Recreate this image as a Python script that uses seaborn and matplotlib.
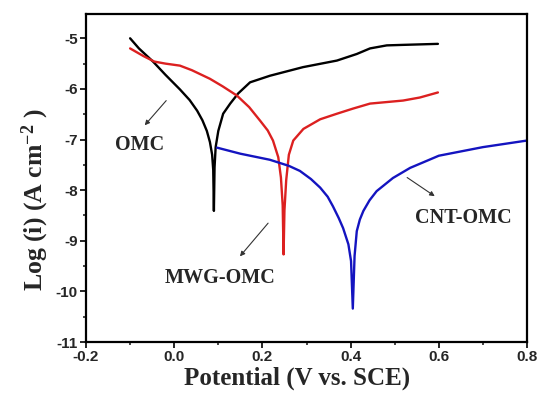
import matplotlib
matplotlib.use("Agg")
import matplotlib.pyplot as plt
import seaborn as sns
import pandas as pd

# OMC (black)
omc_x = [-0.100, -0.080, -0.048, -0.020, 0.013, 0.035, 0.052, 0.064, 0.074, 0.081, 0.086, 0.0885, 0.090,
         0.0915, 0.094, 0.100, 0.111, 0.127, 0.145, 0.172, 0.217, 0.292, 0.369, 0.414, 0.444, 0.482, 0.519, 0.598]
omc_y = [-5.00, -5.20, -5.46, -5.72, -6.01, -6.22, -6.43, -6.62, -6.83, -7.05, -7.30, -7.60, -8.41,
         -7.55, -7.15, -6.83, -6.49, -6.29, -6.09, -5.87, -5.74, -5.57, -5.44, -5.31, -5.20, -5.14, -5.13, -5.11]

# MWG-OMC (red)
mwg_x = [-0.100, -0.070, -0.045, -0.020, 0.013, 0.040, 0.081, 0.110, 0.142, 0.170, 0.195, 0.212, 0.224,
         0.236, 0.242, 0.246, 0.248, 0.250, 0.254, 0.260, 0.270, 0.293, 0.331, 0.369, 0.405, 0.444, 0.519, 0.557, 0.598]
mwg_y = [-5.20, -5.35, -5.46, -5.50, -5.54, -5.63, -5.80, -5.95, -6.13, -6.36, -6.63, -6.82, -7.02,
         -7.35, -7.75, -8.30, -9.27, -8.40, -7.80, -7.30, -7.02, -6.79, -6.60, -6.49, -6.39, -6.29, -6.23, -6.17, -6.07]

# CNT-OMC (blue)
cnt_x = [0.097, 0.150, 0.217, 0.260, 0.285, 0.310, 0.331, 0.348, 0.360, 0.373, 0.383, 0.395, 0.401, 0.405,
         0.409, 0.414, 0.421, 0.429, 0.443, 0.459, 0.496, 0.535, 0.573, 0.600, 0.700, 0.800]
cnt_y = [-7.16, -7.28, -7.40, -7.52, -7.62, -7.78, -7.95, -8.13, -8.32, -8.55, -8.75, -9.07, -9.40, -10.34,
         -9.30, -8.81, -8.58, -8.41, -8.20, -8.02, -7.76, -7.56, -7.42, -7.32, -7.15, -7.02]

labels = ["OMC", "MWG-OMC", "CNT-OMC"]
colors = ["#000000", "#dc2020", "#1414c0"]

df = pd.concat([
    pd.DataFrame({"x": omc_x, "y": omc_y, "s": labels[0]}),
    pd.DataFrame({"x": mwg_x, "y": mwg_y, "s": labels[1]}),
    pd.DataFrame({"x": cnt_x, "y": cnt_y, "s": labels[2]}),
], ignore_index=True)

sns.set_style("ticks")
plt.rcParams["mathtext.fontset"] = "custom"
plt.rcParams["mathtext.rm"] = "Liberation Serif:bold"
plt.rcParams["mathtext.it"] = "Liberation Serif:bold"
plt.rcParams["mathtext.bf"] = "Liberation Serif:bold"
plt.rcParams["mathtext.default"] = "rm"

fig = plt.figure(figsize=(5.37, 3.94), dpi=100)
ax = fig.add_axes([86/537, 1 - 342/394, (527-86)/537, (342-14)/394])

sns.lineplot(data=df, x="x", y="y", hue="s", palette=dict(zip(labels, colors)),
             estimator=None, sort=False, linewidth=1.7, legend=False, ax=ax)

ax.set_xlim(-0.2, 0.8)
ax.set_ylim(-11, -4.52)
ax.set_xticks([-0.2, 0.0, 0.2, 0.4, 0.6, 0.8])
ax.set_xticklabels(["-0.2", "0.0", "0.2", "0.4", "0.6", "0.8"])
ax.set_xticks([-0.1, 0.1, 0.3, 0.5, 0.7], minor=True)
ax.set_yticks([-11, -10, -9, -8, -7, -6, -5])
ax.set_yticklabels(["-11", "-10", "-9", "-8", "-7", "-6", "-5"])
ax.set_yticks([-10.5, -9.5, -8.5, -7.5, -6.5, -5.5], minor=True)

for sp in ax.spines.values():
    sp.set_linewidth(1.6)
    sp.set_color("black")
ax.tick_params(axis="both", which="major", direction="out", length=4, width=1.4,
               labelsize=11, pad=2)
ax.tick_params(axis="both", which="minor", direction="out", length=2.5, width=1.2)
for t in ax.get_xticklabels() + ax.get_yticklabels():
    t.set_fontfamily("Liberation Sans")
    t.set_fontweight("bold")

ax.set_xlabel("Potential (V vs. SCE)", fontfamily="Liberation Serif", fontweight="bold",
              fontsize=18)
ax.xaxis.set_label_coords(0.478, -0.076)
ax.set_ylabel("Log (i) (A cm$^{-2}$ )", fontfamily="Liberation Serif", fontweight="bold",
              fontsize=18.5)
ax.yaxis.set_label_coords(-0.079, 0.433)

arrow = dict(arrowstyle="-|>", color="#333333", lw=0.8, mutation_scale=7)
txt = dict(fontfamily="Liberation Serif", fontweight="bold", fontsize=14.5, ha="center", va="center")
ax.annotate("", xy=(-0.071, -6.76), xytext=(-0.014, -6.19), arrowprops=arrow)
ax.text(-0.078, -7.10, "OMC", **txt)
ax.annotate("", xy=(0.145, -9.35), xytext=(0.217, -8.61), arrowprops=arrow)
ax.text(0.104, -9.74, "MWG-OMC", **txt)
ax.annotate("", xy=(0.596, -8.15), xytext=(0.523, -7.72), arrowprops=arrow)
ax.text(0.655, -8.55, "CNT-OMC", **txt)

fig.savefig("out.png", dpi=100)
